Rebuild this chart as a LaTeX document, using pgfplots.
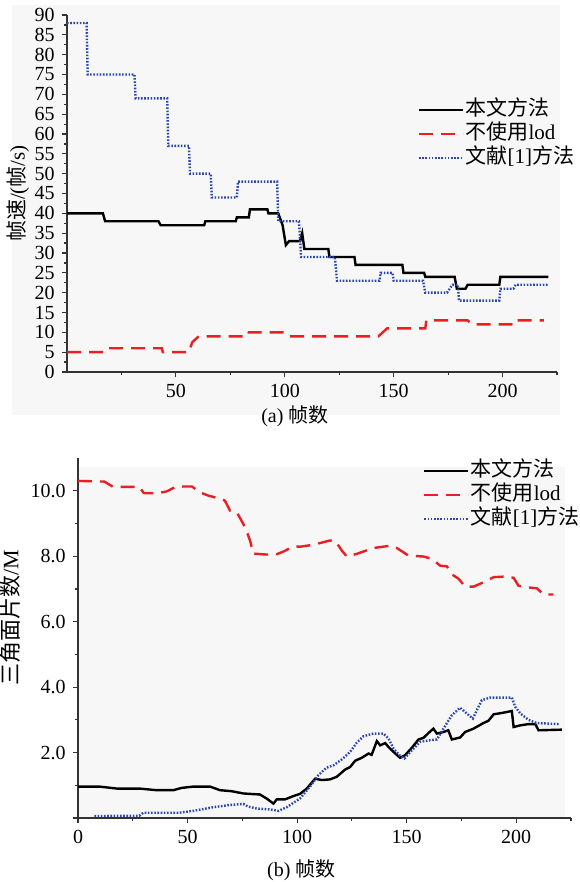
\documentclass[border=0pt]{standalone}
\usepackage{fontspec}
\setmainfont{Liberation Serif}
\newfontfamily\cjk{Noto Sans CJK SC}
\usepackage{pgfplots}
\pgfplotsset{compat=1.18}

\definecolor{myred}{RGB}{235,30,35}
\definecolor{myblue}{RGB}{45,70,175}
\definecolor{bg}{RGB}{247,247,247}

\pgfplotsset{
  legend image code/.code={\draw[#1] (0pt,0pt) -- (22pt,0pt);},
  common/.style={
    scale only axis,
    axis lines=left,
    axis line style={-, line width=0.6pt, black!80},
    tick style={black!80, line width=0.6pt},
    tick align=outside,
    major tick length=2.6pt,
    minor tick length=1.7pt,
    xmin=0, xmax=225,
    tick label style={font=\fontsize{10}{12}\selectfont},
    /pgf/number format/assume math mode=true,
    legend cell align=left,
    clip=false,
  },
  mylegend/.style={
    legend style={draw=none, fill=none, at={#1}, anchor=north west,
      inner sep=0pt, outer sep=0pt, row sep=0pt,
      font=\fontsize{10.5}{12}\selectfont,
      nodes={inner sep=0.7pt, text height=8pt, text depth=2.6pt}},
  },
  blk/.style={black, line width=1.2pt},
  rd/.style={myred, line width=1.2pt, dash pattern=on 7pt off 4pt},
  bl/.style={myblue, line width=1.2pt, dash pattern=on 0.8pt off 0.8pt},
}

\begin{document}
\begin{tikzpicture}
\useasboundingbox (0pt,0pt) rectangle (289.5pt,-441pt);
\fill[bg] (6pt,-2.5pt) rectangle (280pt,-207.5pt);
\fill[bg] (39pt,-233.5pt) rectangle (282.5pt,-409pt);

% ---------------- top panel ----------------
\begin{axis}[common,
  at={(33.5pt,-186pt)}, anchor=south west,
  width=245pt, height=178.5pt,
  ymin=0, ymax=90,
  xtick={50,100,150,200}, minor xtick={25,75,125,175,225},
  ytick={0,5,...,90}, minor ytick={2.5,7.5,...,87.5},
  xlabel={(a) {\cjk 帧数}},
  xlabel style={at={(axis description cs:0.465,0)}, anchor=center, yshift=-22pt, font=\fontsize{10}{12}\selectfont},
  ylabel={{\cjk 帧速}/({\cjk 帧}/s)},
  ylabel style={at={(axis description cs:-0.1,0.5)}, anchor=center, font=\fontsize{10.5}{12}\selectfont},
  mylegend={(rel axis cs:0.716,0.7675)},
]
\addplot[blk] coordinates {
(0,40) (16.5,40) (17.5,38) (42,38) (43,37) (63,37) (63.5,38) (77.5,38) (78,39) (83.5,39) (84,41) (92,41) (92.5,40) (97,40) (99,37) (100.5,32) (102,33) (107,33) (108,35) (109,31) (120,31) (120.5,29) (132,29) (132.5,27) (154,27) (154.5,25) (164,25) (164.5,24) (178,24) (179,21) (183,21) (184,22) (198.5,22) (199,24) (221,24)
};
\addlegendentry{{\cjk 本文方法}}
\addplot[rd] coordinates {
(0,5) (17,5) (18.5,6) (43.5,6) (44,5) (56,5) (57.5,7.5) (58.5,8) (60.5,9) (83,9) (83.5,10) (99.5,10) (101.5,9) (143,9) (147,11) (164.5,11) (165,13) (184,13) (186,12) (204,12) (204.5,13) (219,13)
};
\addlegendentry{{\cjk 不使用}lod}
\addplot[bl] coordinates {
(0,88) (9,88) (9.5,75) (31,75) (31.5,69) (46,69) (46.5,57) (56,57) (56.5,50) (66,50) (66.5,44) (78,44) (78.5,48) (96.5,48) (97,38) (106.5,38) (107.5,29) (123,29) (124,23) (143.5,23) (144,25) (149.5,25) (150,23) (163.5,23) (164.5,20) (174.5,20) (177,22) (179.5,22) (180,18) (198.5,18) (199,21) (205,21) (206,22) (221,22)
};
\addlegendentry{{\cjk 文献}[1]{\cjk 方法}}
\end{axis}

% ---------------- bottom panel ----------------
\begin{axis}[common,
  at={(39pt,-409pt)}, anchor=south west,
  width=246.5pt, height=180pt,
  ymin=0, ymax=11,
  xtick={0,50,100,150,200}, minor xtick={25,75,125,175,225},
  ytick={0,2,4,6,8,10}, yticklabels={{},2.0,4.0,6.0,8.0,10.0},
  minor ytick={1,3,5,7,9},
  xlabel={(b) {\cjk 帧数}},
  xlabel style={at={(axis description cs:0.453,0)}, anchor=center, yshift=-26pt, font=\fontsize{10}{12}\selectfont},
  ylabel={{\cjk 三角面片数}/M},
  ylabel style={at={(axis description cs:-0.138,0.556)}, anchor=center, font=\fontsize{11}{12}\selectfont},
  mylegend={(rel axis cs:0.70,0.997)},
]
\addplot[blk] coordinates {
(0,0.96) (9.8,0.96) (17.7,0.9) (28,0.9) (35.9,0.85) (43.5,0.85) (47.3,0.92) (52.7,0.96) (60.3,0.96) (64.8,0.85) (70,0.82) (75.5,0.75) (80,0.73) (83,0.72) (86.2,0.59) (89.2,0.44) (90.7,0.57) (94.5,0.57) (98.3,0.67) (101.4,0.74) (104.4,0.9) (108.2,1.2) (111.3,1.16) (115,1.18) (118.1,1.26) (121.9,1.48) (124.2,1.56) (126.5,1.75) (129.5,1.84) (132.6,1.97) (134,1.93) (136.4,2.35) (137.9,2.22) (140.2,2.29) (141.7,2.17) (144,2.02) (147,1.84) (149.3,1.92) (152.4,2.15) (155.4,2.4) (157.7,2.45) (160,2.6) (162.2,2.73) (163.8,2.58) (166.9,2.63) (169,2.68) (170.6,2.4) (174.4,2.46) (176.7,2.63) (180.5,2.73) (185,2.9) (187.3,2.97) (189.7,3.17) (193.5,3.21) (198,3.27) (198.8,2.78) (201.8,2.83) (205.6,2.87) (208.7,2.87) (210.2,2.68) (220.8,2.7)
};
\addlegendentry{{\cjk 本文方法}}
\addplot[rd] coordinates {
(0,10.3) (12,10.28) (16,10.12) (28,10.12) (30,9.93) (36,9.92) (40.5,9.98) (44,10.1) (48,10.13) (52,10.13) (55.7,9.95) (59.5,9.85) (64.8,9.76) (67,9.7) (69.4,9.39) (72.5,9.34) (76.3,8.88) (78.5,8.48) (80,8.08) (86,8.05) (90.7,8.06) (93.7,8.14) (98.3,8.3) (101.4,8.29) (107.5,8.35) (115,8.48) (117.5,8.46) (120.4,8.17) (122.7,7.99) (127.2,8.07) (134.8,8.25) (142.5,8.32) (145.5,8.25) (150.8,8.02) (157.7,7.99) (161.5,7.92) (165.3,7.71) (168.3,7.69) (171.4,7.41) (173.7,7.31) (176.7,7.07) (180.5,7.07) (185,7.2) (189.7,7.36) (195.7,7.38) (198.8,7.34) (201,7.1) (204.9,7.05) (209.4,7.02) (212.5,6.83) (217,6.83)
};
\addlegendentry{{\cjk 不使用}lod}
\addplot[bl] coordinates {
(7.5,0.06) (28,0.07) (29.8,0.16) (46,0.16) (52.7,0.22) (61.8,0.33) (69.4,0.4) (75.5,0.43) (77.6,0.35) (81.5,0.29) (87.6,0.26) (91.5,0.22) (95.3,0.33) (98,0.45) (101.4,0.6) (105.9,0.96) (109.7,1.31) (113.5,1.54) (116.6,1.61) (120.4,1.79) (124.2,2.02) (127.2,2.3) (130.3,2.5) (134.8,2.58) (139.4,2.58) (141.7,2.43) (144,2.12) (147,1.9) (149,1.82) (152.4,2.07) (156.2,2.33) (160,2.37) (163.8,2.4) (166.8,2.73) (170.6,3.14) (174.4,3.37) (177.5,3.19) (180.2,3.04) (182,3.29) (184.3,3.6) (188.1,3.68) (198,3.68) (199.5,3.4) (201.8,3.2) (205.6,3.0) (209.4,2.9) (220,2.87)
};
\addlegendentry{{\cjk 文献}[1]{\cjk 方法}}
\end{axis}
\end{tikzpicture}
\end{document}
